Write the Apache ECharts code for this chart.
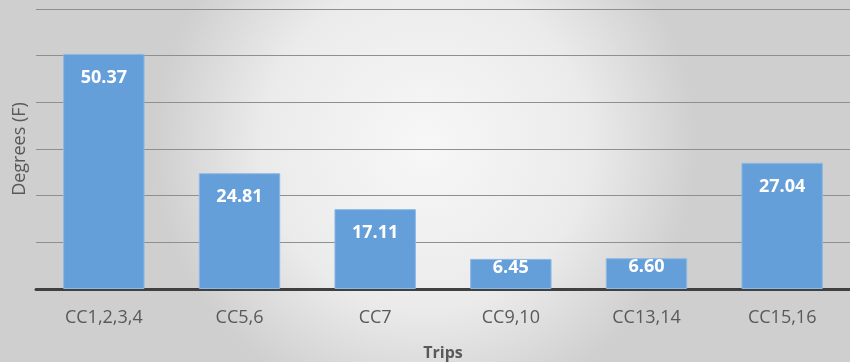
<!DOCTYPE html>
<html>
<head>
<meta charset="utf-8">
<script src="https://cdn.jsdelivr.net/npm/echarts@6/dist/echarts.min.js"></script>
<style>
    html, body {margin: 0; padding: 0;}
    #chart {width: 850px; height: 362px;}
</style>
</head>
<body>
<div id="chart"></div>
<script>
// values
const trips = ['CC1,2,3,4', 'CC5,6', 'CC7', 'CC9,10', 'CC13,14', 'CC15,16'];
const degrees = [50.37, 24.81, 17.11, 6.45, 6.60, 27.04];

const fontFamily = '"Open Sans", "Liberation Sans", sans-serif';

let chart = echarts.init(document.getElementById('chart'));

// short bars keep their label pinned to the bar top
let barData = degrees.map(function (v) {
    return {
        value: v,
        label: {distance: v < 10 ? 0 : 15}
    };
});

chart.setOption({
    animation: false,
    backgroundColor: {
        type: 'radial', x: 0.5, y: 0.4, r: 0.75,
        colorStops: [
            {offset: 0, color: '#f7f7f7'},
            {offset: 0.6, color: '#ebebeb'},
            {offset: 1, color: '#cfcfcf'}
        ]
    },
    grid: {left: 36, right: 0, top: 9, bottom: 73, outerBoundsMode: 'none', containLabel: false},
    xAxis: {
        type: 'category',
        data: trips,
        name: 'Trips',
        nameLocation: 'middle',
        nameGap: 56,
        nameTextStyle: {fontFamily: fontFamily, fontSize: 16, fontWeight: 'bold', color: '#595959'},
        axisLine: {lineStyle: {color: '#404040', width: 3}},
        axisTick: {show: false},
        axisLabel: {fontFamily: fontFamily, fontSize: 18, color: '#595959', margin: 20}
    },
    yAxis: {
        type: 'value',
        min: 0,
        max: 60,
        interval: 10,
        name: 'Degrees (F)',
        nameLocation: 'middle',
        nameGap: 7,
        nameRotate: 90,
        nameTextStyle: {fontFamily: fontFamily, fontSize: 18, color: '#595959'},
        axisLabel: {show: false},
        axisLine: {show: false},
        axisTick: {show: false},
        splitLine: {lineStyle: {color: '#8f8f8f', width: 1}}
    },
    series: [{
        type: 'bar',
        data: barData,
        barWidth: '60%',
        itemStyle: {color: '#659fd9', borderColor: '#8cb8e4', borderWidth: 1},
        label: {
            show: true,
            position: 'insideTop',
            formatter: function (p) { return p.value.toFixed(2); },
            fontFamily: fontFamily,
            fontSize: 18,
            fontWeight: 'bold',
            color: '#ffffff'
        }
    }]
});
</script>
</body>
</html>
